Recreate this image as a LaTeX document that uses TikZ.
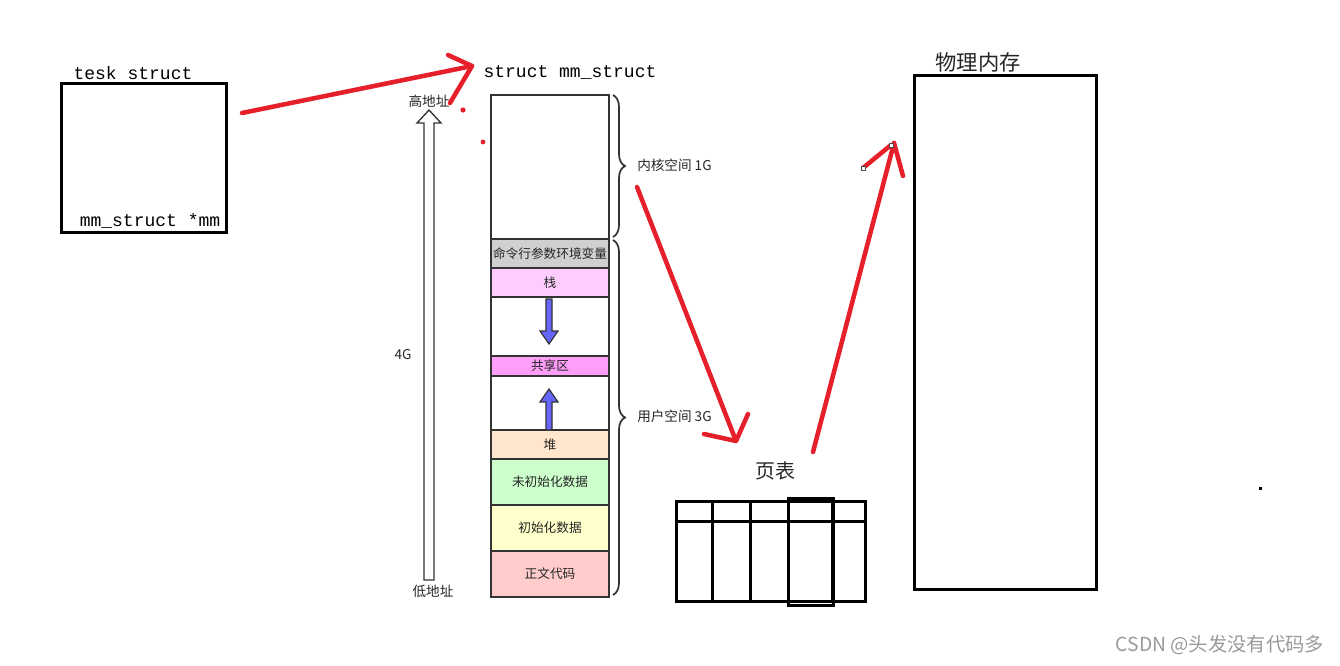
\documentclass[tikz,border=0pt]{standalone}
\usepackage{fontspec}
\setmonofont{Liberation Mono}
\newfontfamily\cjk{Noto Sans CJK SC}
\usetikzlibrary{decorations.pathreplacing}
\definecolor{redpen}{HTML}{E5202B}
\definecolor{edge}{HTML}{333333}
\definecolor{cmdgray}{HTML}{D0D0D0}
\definecolor{stackpink}{HTML}{FFCCFF}
\definecolor{sharedpink}{HTML}{FF9EF8}
\definecolor{heapcol}{HTML}{FFE6CC}
\definecolor{bsscol}{HTML}{CCFFCC}
\definecolor{datacol}{HTML}{FFFFCC}
\definecolor{textcol}{HTML}{FFCCCC}
\definecolor{bluearrow}{HTML}{6666FF}
\tikzset{
  thickbox/.style={draw=black, line width=2.25pt, fill=none},
  seg/.style={draw=edge, line width=1.1pt, minimum width=88.5pt, inner sep=0pt, outer sep=0pt, font=\cjk\fontsize{9.5}{10}\selectfont, text=black!85},
  mono/.style={font=\ttfamily\fontsize{13.5}{14}\selectfont, inner sep=0pt},
  small/.style={font=\cjk\fontsize{10.2}{11}\selectfont, inner sep=0pt, text=black!85},
  pen/.style={draw=redpen, line width=3.4pt, line cap=round, line join=round},
  bracestyle/.style={draw=edge, line width=1.3pt, decorate, decoration={brace, amplitude=9pt}},
  blockarrow/.style={draw=edge, line width=0.9pt, fill=bluearrow, line join=miter},
}
\begin{document}
\begin{tikzpicture}[x=0.75pt,y=-0.75pt]
\useasboundingbox (0,0) rectangle (1340,665);

% task_struct
\node[thickbox, minimum width=123.75pt, minimum height=111.75pt, inner sep=0pt] (task) at (143.5,157.5) {};
\node[mono, anchor=base] (tasklbl) at (133,79) {tesk struct};
\node[mono, anchor=base] (mmptr) at (150,226) {mm\_struct *mm};

% mm_struct title
\node[mono, anchor=base] (mmtitle) at (570,77) {struct mm\_struct};

% address arrow
\node[small] (high) at (429,101) {高地址};
\node[small] (low) at (433,591) {低地址};
\node[small] (fourg) at (403,355) {4G};
\draw[draw=edge, line width=1pt, fill=white, line join=miter]
  (424,580) -- (424,123) -- (417,123) -- (429,110) -- (441,123) -- (434,123) -- (434,580) -- cycle;

% memory column
\node[seg, fill=white, minimum height=108pt] (kernel) at (550,167) {};
\node[seg, fill=cmdgray, minimum height=21.75pt] (cmd) at (550,253.5) {命令行参数环境变量};
\node[seg, fill=stackpink, minimum height=21.75pt] (stack) at (550,282.5) {栈};
\node[seg, fill=white, minimum height=44.25pt] (gapa) at (550,326.5) {};
\node[seg, fill=sharedpink, minimum height=15pt] (shared) at (550,366) {共享区};
\node[seg, fill=white, minimum height=40.5pt] (gapb) at (550,403) {};
\node[seg, fill=heapcol, minimum height=21.75pt] (heap) at (550,444.5) {堆};
\node[seg, fill=bsscol, minimum height=34.5pt] (bss) at (550,482) {未初始化数据};
\node[seg, fill=datacol, minimum height=34.5pt] (data) at (550,528) {初始化数据};
\node[seg, fill=textcol, minimum height=34.5pt] (text) at (550,574) {正文代码};

% blue arrows
\draw[blockarrow] (546,299) -- (552,299) -- (552,331) -- (558,331) -- (549,344) -- (540,331) -- (546,331) -- cycle;
\draw[blockarrow] (546,430) -- (552,430) -- (552,402) -- (558,402) -- (549,389) -- (540,402) -- (546,402) -- cycle;

% braces
\draw[bracestyle] (613,95) -- (613,237);
\draw[bracestyle] (613,240) -- (613,595);
\node[small, anchor=west] (klbl) at (637,165) {内核空间 1G};
\node[small, anchor=west] (ulbl) at (637,416) {用户空间 3G};

% page table
\node[font=\cjk\fontsize{15}{16}\selectfont, text=black!85, inner sep=0pt] (ptlbl) at (775,471) {页表};
\node[thickbox, minimum width=141.75pt, minimum height=75pt, inner sep=0pt] (ptable) at (770.5,551) {};
\draw[line width=2.25pt] (676,521) -- (865,521);
\foreach \x in {712,750,832} \draw[line width=2.25pt] (\x,501) -- (\x,601);
\node[thickbox, minimum width=33.75pt, minimum height=80.25pt, inner sep=0pt] (ptsel) at (810.5,551.5) {};

% physical memory
\node[font=\cjk\fontsize{16}{17}\selectfont, text=black!85, inner sep=0pt] (phylbl) at (978,62) {物理内存};
\node[thickbox, minimum width=136.5pt, minimum height=385.5pt, inner sep=0pt] (phys) at (1005,332) {};

% red pen strokes
\coordinate (a1s) at (242,113);
\coordinate (a1e) at (472,66);
\draw[pen] (a1s) -- (a1e);
\draw[pen] (448,55) -- (a1e) -- (450,103);
\coordinate (a2s) at (637,187);
\coordinate (a2e) at (736,441);
\draw[pen] (a2s) -- (a2e);
\draw[pen] (704,434) -- (a2e) -- (748,414);
\coordinate (a3s) at (813,452);
\coordinate (a3e) at (894,143);
\draw[pen] (a3s) -- (a3e);
\draw[pen] (863,168) -- (891,145);
\draw[pen] (a3e) -- (903,176);
\draw[draw=black!70, fill=white, line width=0.4pt] (861.5,166.5) rectangle (865,170);
\draw[draw=black!70, fill=white, line width=0.4pt] (889.5,143.5) rectangle (893,147);
\fill[redpen] (463,110) circle (2.6);
\fill[redpen] (483,142) circle (2.4);

% stray dot
\fill[black] (1258.5,486.5) rectangle (1262,490);

% watermark
\node[font=\cjk\fontsize{14.5}{15}\selectfont, text=black!40, inner sep=0pt] (wm) at (1220,645) {CSDN @头发没有代码多};
\end{tikzpicture}
\end{document}
